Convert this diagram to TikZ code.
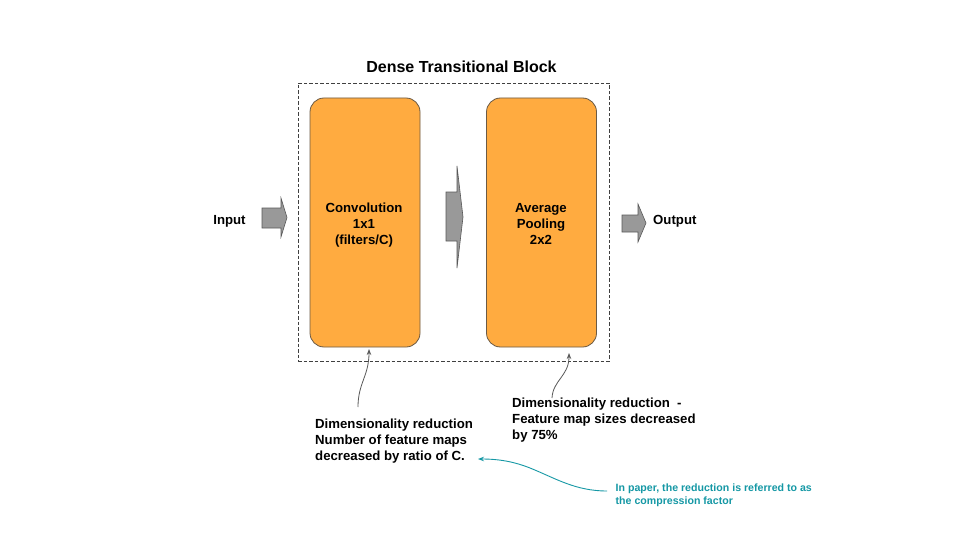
\documentclass[tikz,border=0pt]{standalone}
\usepackage{fontspec}
\setmainfont{Liberation Sans}
\usetikzlibrary{arrows.meta}
\definecolor{boxorange}{HTML}{FFAB40}
\definecolor{boxline}{HTML}{6B5A45}
\definecolor{arrowgray}{HTML}{999999}
\definecolor{annogray}{HTML}{595959}
\definecolor{tealtext}{HTML}{1598A5}
\begin{document}
\begin{tikzpicture}[x=1pt,y=-1pt,
  layerbox/.style={rectangle, rounded corners=14pt, draw=boxline, line width=0.8pt,
    fill=boxorange, minimum width=110pt, minimum height=249pt, inner sep=0pt},
  txt/.style={font=\bfseries\fontsize{13.2}{16}\selectfont, inner sep=0pt, text=black},
  tealtxt/.style={font=\bfseries\fontsize{10.6}{12.5}\selectfont, inner sep=0pt, text=tealtext},
  blockarrow/.style={fill=arrowgray, draw=annogray, line width=0.6pt, line join=miter},
  anno/.style={draw=annogray, line width=0.8pt, -{Stealth[length=6pt,width=4.5pt]}},
  tealanno/.style={draw=tealtext, line width=0.9pt, -{Stealth[length=6pt,width=4.5pt]}},
  groupbox/.style={draw=black!75, line width=0.7pt, dash pattern=on 3.5pt off 2pt,
    minimum width=311pt, minimum height=278pt, inner sep=0pt}
]
\useasboundingbox (0,0) rectangle (960,540);
\fill[white] (0,0) rectangle (960,540);

% group
\node[groupbox] (block) at (453.5,222) {};
\node[font=\bfseries\fontsize{16}{19}\selectfont, inner sep=0pt, anchor=base] (title) at (461.5,72.7) {Dense Transitional Block};

% layers
\node[layerbox] (conv) at (365,222.5) {};
\node[layerbox] (pool) at (541.5,222.5) {};
\node[txt, align=center, anchor=north] (convlabel) at (364,203) {Convolution\\1x1\\(filters/C)};
\node[txt, align=center, anchor=north] (poollabel) at (541,203) {Average\\Pooling\\2x2};

% input / output
\node[txt, anchor=base] (input) at (229.5,224.7) {Input};
\node[txt, anchor=base west] (output) at (653,224.7) {Output};

% block arrows
\draw[blockarrow] (262,208) -- (281,208) -- (281,198) -- (287,217.5) -- (281,237) -- (281,228) -- (262,228) -- cycle;
\draw[blockarrow] (446,192) -- (457,192) -- (457,166) -- (463,217) -- (457,268) -- (457,241) -- (446,241) -- cycle;
\draw[blockarrow] (622,215) -- (638,215) -- (638,204) -- (646,223) -- (638,242) -- (638,232) -- (622,232) -- cycle;

% annotations
\node[txt, align=left, anchor=north west] (note1) at (315,419)
  {Dimensionality reduction\\Number of feature maps\\decreased by ratio of C.};
\node[txt, align=left, anchor=north west] (note2) at (512,397.5)
  {Dimensionality reduction\ \ -\\Feature map sizes decreased\\by 75\%};
\node[tealtxt, align=left, anchor=north west] (note3) at (615.5,483.7)
  {In paper, the reduction is referred to as\\the compression factor};

\coordinate (n1start) at (358,407);
\coordinate (n1tip) at (369,349);
\coordinate (n2start) at (552,398);
\coordinate (n2tip) at (569,353);
\coordinate (n3start) at (607,491);
\coordinate (n3mid) at (530,468);
\coordinate (n3tip) at (478,459);

\draw[anno] (n1start) .. controls (358,383) and (369,376) .. (n1tip);
\draw[anno] (n2start) .. controls (553,380) and (569,376) .. (n2tip);
\draw[tealanno] (n3start) .. controls (575,491) and (555,478) .. (n3mid)
  .. controls (515,462) and (500,459) .. (n3tip);
\end{tikzpicture}
\end{document}
